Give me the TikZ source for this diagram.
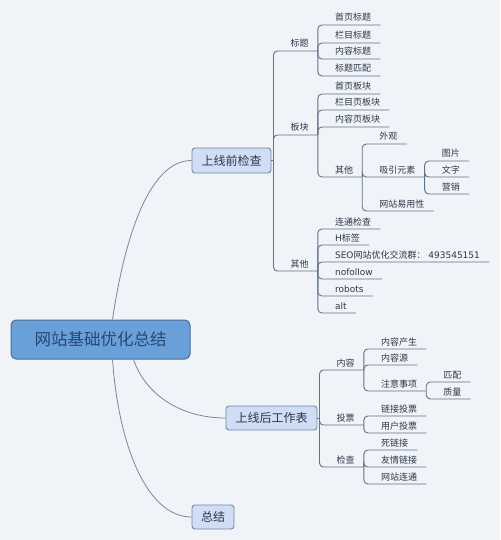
\documentclass[tikz,border=0pt]{standalone}
\usepackage{fontspec}
\newfontfamily\cjk{Noto Sans CJK SC}
\newfontfamily\latinfont{DejaVu Sans}
\usetikzlibrary{positioning}
\definecolor{paper}{RGB}{240,243,247}
\definecolor{rootfill}{RGB}{106,160,218}
\definecolor{rootline}{RGB}{78,110,150}
\definecolor{rootink}{RGB}{40,70,115}
\definecolor{boxfill}{RGB}{207,221,245}
\definecolor{boxline}{RGB}{115,135,165}
\definecolor{ink}{RGB}{45,55,75}
\definecolor{wire}{RGB}{95,115,140}
\tikzset{
  rootbox/.style={draw=rootline,fill=rootfill,line width=1pt,rounded corners=5pt,
    minimum width=179pt,minimum height=39pt,text=rootink,
    font=\cjk\fontsize{16.5}{20}\selectfont},
  mainbox/.style={draw=boxline,fill=boxfill,line width=0.9pt,rounded corners=3pt,
    minimum height=24pt,inner xsep=0pt,text=ink,font=\cjk\fontsize{12}{14}\selectfont},
  topic/.style={font=\cjk\fontsize{9}{11}\selectfont,text=ink,inner sep=0pt,anchor=base west},
  link/.style={draw=wire,line width=0.9pt,rounded corners=4pt},
  curve/.style={draw=wire!85,line width=0.8pt},
}
% topic with underline: name, parent, y of underline, text
\newcommand{\subtopic}[4]{%
  \node[topic,xshift=17pt,yshift=4pt] (#1) at (#2-e |- 0,#3) {#4};
  \path (#1.east |- 0,#3) ++(9,0) coordinate (#1-e);
  \draw[link] (#2-e) |- (#1-e);
}

\begin{document}
\begin{tikzpicture}[x=1pt,y=-1pt]
  \fill[paper] (0,0) rectangle (500,540);
  \useasboundingbox (0,0) rectangle (500,540);

  % main boxes
  \node[rootbox] (root) at (100.5,339.5) {网站基础优化总结};
  \node[mainbox,minimum width=79pt,minimum height=25pt] (pre) at (231.5,160.5) {上线前检查};
  \node[mainbox,minimum width=91pt] (post) at (271.5,418) {上线后工作表};
  \node[mainbox,minimum width=42pt] (sum) at (213,517) {总结};

  \draw[curve] ([xshift=12pt]root.north) .. controls +(15,-100) and +(-37,0) .. (pre.west);
  \draw[curve] ([xshift=33pt]root.south) .. controls +(12,35) and +(-45,0) .. (post.west);
  \draw[curve] ([xshift=12pt]root.south) .. controls +(6,85) and +(-45,0) .. (sum.west);

  \coordinate (pre-e) at ([xshift=2pt]pre.east);
  \coordinate (post-e) at ([xshift=2pt]post.east);
  \draw[link] (pre.east) -- (pre-e);
  \draw[link] (post.east) -- (post-e);

  % before launch
  \subtopic{biaoti}{pre}{51}{标题}
  \subtopic{bankuai}{pre}{135}{板块}
  \subtopic{qita}{pre}{271}{其他}
  \foreach \n/\y/\t in {sybt/25/首页标题, lmbt/43/栏目标题, nrbt/59/内容标题, btpp/76/标题匹配}
    {\subtopic{\n}{biaoti}{\y}{\t}}
  \foreach \n/\y/\t in {sybk/94/首页板块, lmbk/110/栏目页板块, nrbk/127/内容页板块, bkqt/177/其他}
    {\subtopic{\n}{bankuai}{\y}{\t}}
  \foreach \n/\y/\t in {waiguan/144/外观, xiyin/177/吸引元素, yiyong/211/网站易用性}
    {\subtopic{\n}{bkqt}{\y}{\t}}
  \foreach \n/\y/\t in {tupian/161/图片, wenzi/177/文字, yingxiao/194/营销}
    {\subtopic{\n}{xiyin}{\y}{\t}}
  \foreach \n/\y/\t in {liantong/229/连通检查, hbq/245/{{\latinfont H}标签},
      seo/262/{{\latinfont SEO}网站优化交流群：{\latinfont\ 493545151}},
      nofollow/279/{\latinfont nofollow}, robots/296/{\latinfont robots}, alt/313/{\latinfont alt}}
    {\subtopic{\n}{qita}{\y}{\t}}

  % after launch
  \subtopic{neirong}{post}{370}{内容}
  \subtopic{toupiao}{post}{425}{投票}
  \subtopic{jiancha}{post}{467}{检查}
  \foreach \n/\y/\t in {nrcs/349/内容产生, nry/365/内容源, zysx/391/注意事项}
    {\subtopic{\n}{neirong}{\y}{\t}}
  \foreach \n/\y/\t in {pipei/382/匹配, zhiliang/399/质量}
    {\subtopic{\n}{zysx}{\y}{\t}}
  \foreach \n/\y/\t in {ljtp/416/链接投票, yhtp/433/用户投票}
    {\subtopic{\n}{toupiao}{\y}{\t}}
  \foreach \n/\y/\t in {slj/450/死链接, yqlj/467/友情链接, wzlt/484/网站连通}
    {\subtopic{\n}{jiancha}{\y}{\t}}
\end{tikzpicture}
\end{document}
